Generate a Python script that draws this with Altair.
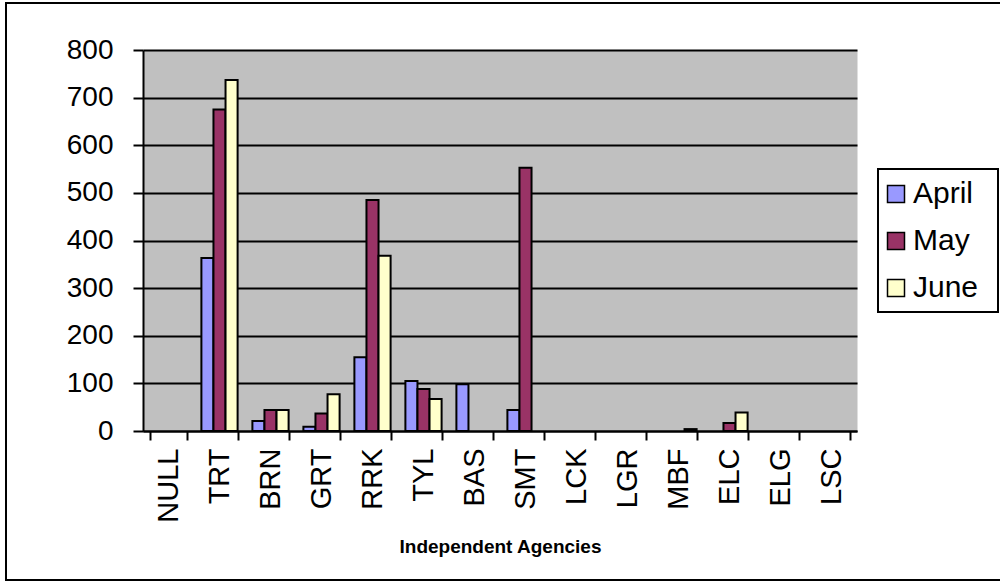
import altair as alt
import pandas as pd

categories = ["NULL", "TRT", "BRN", "GRT", "RRK", "TYL", "BAS", "SMT",
              "LCK", "LGR", "MBF", "ELC", "ELG", "LSC"]
months = ["April", "May", "June"]
april = [0, 363, 21, 9, 155, 105, 98, 44, 0, 0, 0, 0, 0, 0]
may = [0, 675, 44, 37, 485, 88, 0, 553, 0, 0, 0, 17, 0, 0]
june = [0, 737, 44, 77, 368, 67, 0, 0, 0, 0, 4, 39, 0, 0]
colors = ["#9999FF", "#993366", "#FFFFCC"]
y_ticks = [0, 100, 200, 300, 400, 500, 600, 700, 800]

rows = []
for m, series in zip(months, [april, may, june]):
    for c, v in zip(categories, series):
        rows.append({"agency": c, "month": m, "value": v})
df = pd.DataFrame(rows)

FONT = "Liberation Sans"

bars = alt.Chart(df).transform_filter("datum.value > 0").mark_bar(
    stroke="black", strokeWidth=2
).encode(
    x=alt.X("agency:N", sort=categories,
            scale=alt.Scale(domain=categories, paddingInner=0.29, paddingOuter=0.145),
            axis=alt.Axis(title="Independent Agencies", labelAngle=270,
                          labelFontSize=29, labelPadding=8, labelColor="black",
                          tickBand="extent", tickSize=9, tickColor="black", tickWidth=2,
                          domainColor="black", domainWidth=2,
                          titleFontSize=19, titleFontWeight="bold", titleColor="black",
                          titleY=115, titleBaseline="middle")),
    xOffset=alt.XOffset("month:N", sort=months, scale=alt.Scale(domain=months)),
    y=alt.Y("value:Q", scale=alt.Scale(domain=[0, 800], nice=False),
            axis=alt.Axis(title=None, values=y_ticks, labelFontSize=28, labelPadding=20,
                          labelColor="black", tickSize=10, tickColor="black", tickWidth=2,
                          domainColor="black", domainWidth=2,
                          grid=True, gridColor="black", gridWidth=2, gridOpacity=1)),
    color=alt.Color("month:N", sort=months,
                    scale=alt.Scale(domain=months, range=colors),
                    legend=alt.Legend(title=None, orient="none", legendX=738, legendY=129,
                                      symbolType="square", symbolSize=289,
                                      symbolStrokeColor="black", symbolStrokeWidth=1.5,
                                      labelFontSize=30, labelOffset=2, labelColor="black",
                                      rowPadding=17, padding=0)),
)

one = alt.Data(values=[{"k": 1}])

border = alt.Chart(one).mark_rect(fill="white", fillOpacity=0, stroke="black", strokeWidth=2).encode(
    x=alt.value(-137), x2=alt.value(866), y=alt.value(-47), y2=alt.value(530)
)

legend_box = alt.Chart(one).mark_rect(fill="white", stroke="black", strokeWidth=2).encode(
    x=alt.value(735), x2=alt.value(855), y=alt.value(119), y2=alt.value(262)
)

chart = alt.layer(border, legend_box, bars).properties(
    width=714, height=381,
    autosize="none",
    padding={"left": 143, "top": 50, "right": 143, "bottom": 151},
    background="white",
).configure(font=FONT).configure_view(fill="#C0C0C0", stroke="transparent")

chart.save("out.html", embed_options={"renderer": "svg", "actions": False})
